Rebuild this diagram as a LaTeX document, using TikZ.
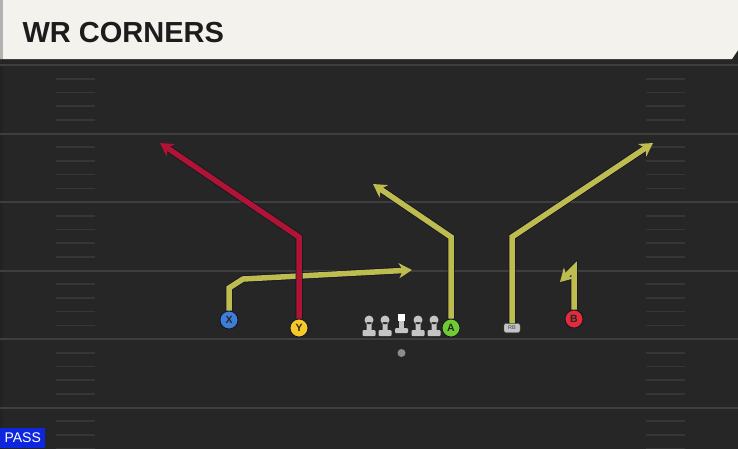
\documentclass[tikz,border=0pt]{standalone}
\usepackage{fontspec}
\setmainfont{Liberation Sans}
\usetikzlibrary{arrows.meta}

\definecolor{fieldbg}{RGB}{38,38,38}
\definecolor{yardline}{RGB}{62,62,62}
\definecolor{hashline}{RGB}{54,54,54}
\definecolor{headbg}{RGB}{244,242,236}
\definecolor{headedge}{RGB}{178,178,178}
\definecolor{titleink}{RGB}{28,28,28}
\definecolor{routeyel}{RGB}{190,188,78}
\definecolor{routered}{RGB}{176,20,52}
\definecolor{routeedge}{RGB}{18,20,38}
\definecolor{xblue}{RGB}{62,126,214}
\definecolor{yyellow}{RGB}{246,200,40}
\definecolor{agreen}{RGB}{110,204,50}
\definecolor{bred}{RGB}{226,44,60}
\definecolor{olgray}{RGB}{196,196,196}
\definecolor{passblue}{RGB}{14,38,222}

\begin{document}
\begin{tikzpicture}[x=1pt, y=-1pt,
    player/.style={circle, draw=routeedge, line width=0.8pt, inner sep=0pt, minimum size=18pt,
      font=\bfseries\fontsize{10.5}{10.5}\selectfont, text=black!85},
    rbbox/.style={rectangle, rounded corners=2pt, fill=olgray, draw=black!60, line width=0.4pt,
      inner sep=0pt, minimum width=16pt, minimum height=9pt, font=\fontsize{5.5}{5.5}\selectfont, text=black!75},
    route/.style={line width=5.5pt, line join=miter, -{Stealth[length=13pt,width=15pt,inset=4pt]},
      preaction={draw=routeedge, line width=7pt}},
    yroute/.style={route, draw=routeyel},
    rroute/.style={route, draw=routered}]
  \useasboundingbox (0,0) rectangle (738,448);
  \fill[fieldbg] (-2,-2) rectangle (740,452);
  \fill[black!10!fieldbg] (0,60) rectangle (3,452);

  % yard lines and hashes
  \foreach \yy in {65,133.5,202,270.5,339,407.5} {
    \draw[yardline, line width=2pt] (0,\yy) -- (738,\yy);
    \foreach \k in {1,2,3,4} {
      \draw[hashline, line width=1.6pt] (56,\yy+\k*13.7) -- (95,\yy+\k*13.7);
      \draw[hashline, line width=1.6pt] (646,\yy+\k*13.7) -- (685,\yy+\k*13.7);
    }
  }

  % header
  \fill[black!85] (0,58) rectangle (738,63);
  \fill[headbg] (0,0) -- (738,0) -- (738,50) -- (732,59) -- (0,59) -- cycle;
  \fill[headedge] (0,0) rectangle (3,59);
  \node[anchor=base west, text=titleink, font=\bfseries\fontsize{29}{29}\selectfont] (title) at (19,42) {WR CORNERS};

  % line
  \foreach \n/\xx in {lt/369,lg/385,rg/418,rt/434} {
    \fill[olgray] (\xx,320) circle (4.5) (\xx-2.5,322) rectangle (\xx+2.5,331);
    \fill[olgray, rounded corners=1pt] (\xx-6.5,330) rectangle (\xx+6.5,336);
    \coordinate (\n) at (\xx,328);
  }
  \fill[white] (398,314) rectangle (405,321);
  \fill[olgray] (399,321) rectangle (404,329);
  \fill[olgray, rounded corners=1pt] (395,328) rectangle (408,333);
  \coordinate (c) at (401.5,324);

  % players
  \node[player, fill=xblue] (x) at (229,320) {X};
  \node[player, fill=yyellow] (y) at (299,328) {Y};
  \node[player, fill=agreen] (a) at (451,328) {A};
  \node[player, fill=bred] (b) at (574,319) {B};
  \node[rbbox] (rb) at (512,328) {RB};
  \node[circle, fill=black!45, inner sep=0pt, minimum size=8pt] (qb) at (401.5,353) {};

  \coordinate (x1) at (229,288);
  \coordinate (x2) at (243,279);
  \coordinate (x3) at (412,270);
  \coordinate (y1) at (299,237);
  \coordinate (y2) at (160,143);
  \coordinate (a1) at (451,237);
  \coordinate (a2) at (373,184);
  \coordinate (r1) at (512,237);
  \coordinate (r2) at (653,143);
  \coordinate (b1) at (574,268);
  \coordinate (b2) at (560,282);

  % routes
  \draw[yroute] (x) -- (x1) -- (x2) -- (x3);
  \draw[rroute] (y) -- (y1) -- (y2);
  \draw[yroute] (a) -- (a1) -- (a2);
  \draw[yroute] (rb) -- (r1) -- (r2);
  \draw[yroute] (b) -- (b1) -- (b2);

  % play type
  \node[anchor=south west, fill=passblue, text=white, inner xsep=3pt, inner ysep=2pt,
    minimum width=45pt, minimum height=20pt, font=\fontsize{14}{14}\selectfont] (pass) at (0,448) {PASS};
\end{tikzpicture}
\end{document}
